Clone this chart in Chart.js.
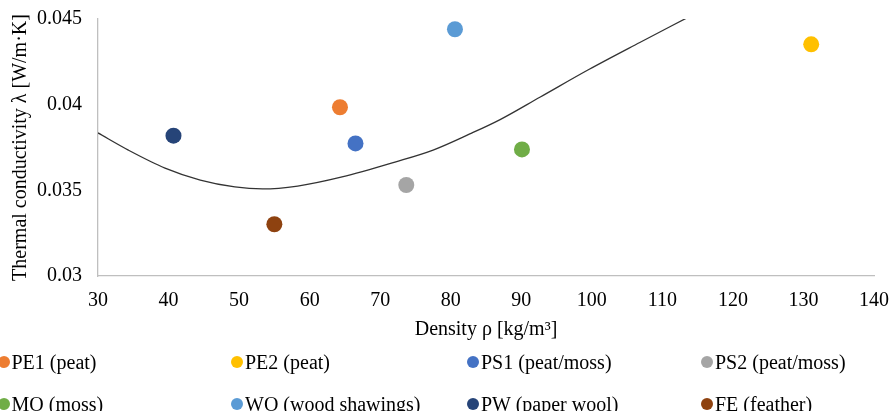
<!DOCTYPE html>
<html>
<head>
<meta charset="utf-8">
<script src="https://cdn.jsdelivr.net/npm/chart.js@4.4.1/dist/chart.umd.min.js"></script>
<style>
    html, body { margin: 0; padding: 0; background: #fff; overflow: hidden; }
    #wrap { position: relative; width: 890px; height: 411px; }
    #legend { position: absolute; left: 0; top: 0; width: 890px; height: 411px; pointer-events: none;
        font-family: "Liberation Serif", "Times New Roman", serif; font-size: 20px; color: #000; }
    .item { position: absolute; display: flex; align-items: center; height: 24px; white-space: nowrap; }
    .dot { width: 12px; height: 12px; border-radius: 50%; margin-right: 2px; flex: none; }
</style>
</head>
<body>
<div id="wrap">
    <canvas id="chart" width="890" height="411"></canvas>
    <div id="legend"></div>
</div>
<script>
// Materials and measured values
const materials = ["PE1 (peat)", "PE2 (peat)", "PS1 (peat/moss)", "PS2 (peat/moss)", "MO (moss)", "WO (wood shawings)", "PW (paper wool)", "FE (feather)"];
const density = [64.3, 131.1, 66.5, 73.7, 90.1, 80.6, 40.7, 55.0];
const conductivity = [0.03985, 0.04352, 0.03774, 0.03531, 0.03739, 0.04440, 0.03819, 0.03302];
const colors = ["#ED7D31", "#FFC000", "#4472C4", "#A5A5A5", "#70AD47", "#5B9BD5", "#264478", "#8E4210"];

// Trendline
const trendX = [30, 34.3, 39.5, 44.5, 49.4, 53.3, 58.3, 64.6, 72.1, 77.5, 82.7, 87.0, 92.7, 99.7, 106.8, 113.6];
const trendY = [0.03835, 0.03735, 0.0363, 0.0356, 0.0352, 0.03508, 0.03525, 0.03578, 0.03665, 0.03735, 0.03829, 0.03913, 0.04045, 0.04208, 0.04363, 0.04509];

const xTicks = [30, 40, 50, 60, 70, 80, 90, 100, 110, 120, 130, 140];
const yTicks = [0.03, 0.035, 0.04, 0.045];

const serif = "'Liberation Serif', 'Times New Roman', serif";

const datasets = materials.map((m, i) => ({
    type: "scatter",
    label: m,
    data: [{ x: density[i], y: conductivity[i] }],
    backgroundColor: colors[i],
    borderWidth: 0,
    pointRadius: 8,
    pointHoverRadius: 8
}));

datasets.push({
    type: "line",
    label: "Trend",
    data: trendX.map((x, i) => ({ x: x, y: trendY[i] })),
    borderColor: "#333",
    borderWidth: 1.3,
    pointRadius: 0,
    cubicInterpolationMode: "monotone",
    fill: false
});

new Chart(document.getElementById("chart"), {
    data: { datasets: datasets },
    options: {
        responsive: false,
        animation: false,
        layout: { padding: { top: 19, right: 16, left: 0, bottom: 69 } },
        plugins: { legend: { display: false }, tooltip: { enabled: false } },
        scales: {
            x: {
                type: "linear",
                min: 30,
                max: 140,
                afterBuildTicks: s => { s.ticks = xTicks.map(v => ({ value: v })); },
                afterFit: s => { s.height = 66; s.paddingLeft = 0; s.paddingRight = 0; },
                grid: { display: false, drawTicks: false },
                border: { display: true, color: "#BFBFBF", width: 1.3 },
                ticks: { padding: 13, color: "#000", font: { family: serif, size: 20 } },
                title: { display: true, text: "Density ρ [kg/m³]", color: "#000", padding: 0, font: { family: serif, size: 20 } }
            },
            y: {
                type: "linear",
                min: 0.03,
                max: 0.045,
                afterBuildTicks: s => { s.ticks = yTicks.map(v => ({ value: v })); },
                afterFit: s => { s.width = 98; s.paddingTop = 0; s.paddingBottom = 0; },
                grid: { display: false, drawTicks: false },
                border: { display: true, color: "#BFBFBF", width: 1.3 },
                ticks: { padding: 16, color: "#000", font: { family: serif, size: 20 }, callback: v => String(+v.toFixed(4)) },
                title: { display: true, text: "Thermal conductivity λ [W/m·K]", color: "#000", padding: { top: 9, bottom: 0 }, font: { family: serif, size: 20 } }
            }
        }
    }
});

// Legend in four columns, two rows
const legend = document.getElementById("legend");
const colX = [3.5, 237, 473, 707];
const rowY = [362, 404];
materials.forEach((m, i) => {
    const el = document.createElement("div");
    el.className = "item";
    el.style.left = (colX[i % 4] - 6) + "px";
    el.style.top = (rowY[Math.floor(i / 4)] - 12) + "px";
    el.innerHTML = "<span class=\"dot\" style=\"background:" + colors[i] + "\"></span><span>" + m + "</span>";
    legend.appendChild(el);
});
</script>
</body>
</html>
